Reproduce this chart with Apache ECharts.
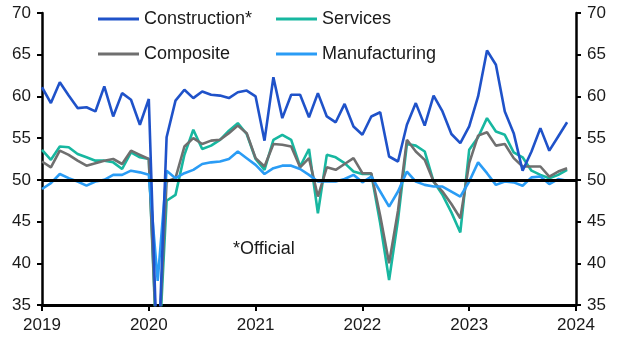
<!DOCTYPE html>
<html>
<head>
<meta charset="utf-8">
<script src="https://cdn.jsdelivr.net/npm/echarts@6/dist/echarts.min.js"></script>
<style>
  html, body { margin: 0; padding: 0; background: #fff; }
  #chart { width: 629px; height: 352px; }
</style>
</head>
<body>
<div id="chart"></div>
<script>
// monthly, Jan 2019 .. Dec 2023 (plus Jan 2024 slot for the last tick)
var months = [];
for (var y = 2019; y <= 2023; y++) {
  for (var m = 1; m <= 12; m++) months.push(y + '-' + (m < 10 ? '0' + m : m));
}
months.push('2024-01');

var construction = [
  61.1, 59.2, 61.7, 60.1, 58.6, 58.7, 58.2, 61.2, 57.6, 60.4, 59.6, 56.6,
  59.7, 26.6, 55.1, 59.5, 60.8, 59.8, 60.6, 60.2, 60.1, 59.8, 60.5, 60.7,
  60.0, 54.7, 62.3, 57.4, 60.2, 60.2, 57.5, 60.4, 57.6, 56.9, 59.1, 56.4,
  55.4, 57.6, 58.1, 52.8, 52.2, 56.6, 59.2, 56.5, 60.1, 58.2, 55.5, 54.4,
  56.4, 60.0, 65.5, 63.8, 58.2, 55.6, 51.1, 53.4, 56.2, 53.5, 55.2, 56.9
];
var services = [
  53.6, 52.4, 54.0, 53.9, 53.1, 52.7, 52.3, 52.3, 52.1, 51.3, 53.3, 52.7,
  52.5, 26.5, 47.5, 48.2, 53.0, 56.0, 53.7, 54.1, 54.8, 55.9, 56.8, 55.5,
  52.5, 51.2, 54.8, 55.4, 54.8, 51.6, 53.7, 46.0, 53.0, 52.7, 52.0, 51.0,
  50.7, 50.7, 44.8, 38.0, 45.2, 54.3, 54.1, 53.4, 49.8, 48.2, 46.1, 43.7,
  53.6, 55.1, 57.4, 55.8, 55.4, 53.3, 52.7, 51.1, 50.6, 50.2, 50.6, 51.2
];
var composite = [
  52.2, 51.5, 53.5, 53.0, 52.3, 51.7, 52.0, 52.3, 52.5, 51.9, 53.5, 53.0,
  52.5, 27.5, 49.8, 50.2, 54.0, 55.0, 54.3, 54.7, 54.8, 55.6, 56.5, 55.6,
  52.6, 51.6, 54.3, 54.2, 54.0, 51.5, 52.6, 48.0, 51.5, 51.2, 51.9, 52.6,
  50.8, 50.8, 45.7, 40.0, 46.3, 54.8, 53.4, 52.4, 49.8, 48.6, 47.1, 45.4,
  52.0, 55.3, 55.7, 54.1, 54.3, 52.6, 51.6, 51.6, 51.6, 50.4, 51.0, 51.4
];
var manufacturing = [
  48.9, 49.6, 50.7, 50.2, 49.8, 49.3, 49.8, 50.0, 50.6, 50.6, 51.1, 50.9,
  50.6, 37.9, 51.1, 50.2, 50.8, 51.2, 51.9, 52.1, 52.2, 52.5, 53.4, 52.6,
  51.8, 50.7, 51.4, 51.7, 51.7, 51.3, 50.6, 49.8, 49.8, 49.8, 50.1, 50.6,
  49.7, 50.4, 48.6, 46.8, 48.6, 51.0, 49.8, 49.4, 49.2, 49.2, 48.6, 48.0,
  49.8, 52.1, 50.8, 49.4, 49.8, 49.7, 49.3, 50.3, 50.4, 49.5, 50.1, 49.9
];

var font = 'Liberation Sans';
var txt = { color: '#1a1a1a', fontFamily: font, fontSize: 17 };

function line(name, data, color) {
  return {
    name: name, type: 'line', data: data, symbol: 'none',
    lineStyle: { color: color, width: 2.6 }, itemStyle: { color: color },
    clip: true
  };
}
// one legend per item so the two columns line up like the original
function legendAt(name, left, top) {
  return {
    data: [name], left: left, top: top, padding: 0,
    icon: 'rect', itemWidth: 41, itemHeight: 3,
    textStyle: { color: '#1a1a1a', fontFamily: font, fontSize: 18 }
  };
}
var yAxisBase = {
  type: 'value', min: 35, max: 70, interval: 5,
  splitLine: { show: false },
  axisLine: { show: true, lineStyle: { color: '#000', width: 2.5 } },
  axisTick: { show: true, length: 5, lineStyle: { color: '#000', width: 2 } },
  axisLabel: Object.assign({ margin: 11 }, txt)
};

var sv = line('Services', services, '#17b7a0');
sv.markLine = {
  silent: true, symbol: 'none', label: { show: false },
  lineStyle: { color: '#000', width: 3, type: 'solid' },
  data: [{ yAxis: 50 }]
};

var chart = echarts.init(document.getElementById('chart'));
chart.setOption({
  animation: false,
  grid: { left: 42, right: 53, top: 13, bottom: 47 },
  legend: [
    legendAt('Construction*', 98, 10),
    legendAt('Composite', 98, 45),
    legendAt('Services', 276, 10),
    legendAt('Manufacturing', 276, 45)
  ],
  xAxis: {
    type: 'category', data: months, boundaryGap: false,
    axisLine: { lineStyle: { color: '#000', width: 3 } },
    axisTick: {
      length: 6, lineStyle: { color: '#000', width: 2 },
      interval: function (i) { return i % 12 === 0; }
    },
    axisLabel: Object.assign({
      margin: 12, showMaxLabel: true,
      interval: function (i) { return i % 12 === 0; },
      formatter: function (v) { return v.slice(0, 4); }
    }, txt)
  },
  yAxis: [
    Object.assign({ position: 'left' }, yAxisBase),
    Object.assign({ position: 'right' }, yAxisBase)
  ],
  series: [
    sv,
    line('Composite', composite, '#6f6f6f'),
    line('Manufacturing', manufacturing, '#2a9cf5'),
    line('Construction*', construction, '#1f52c9')
  ],
  graphic: [{
    type: 'text', left: 233, top: 240,
    style: { text: '*Official', fill: '#1a1a1a', font: '18px "Liberation Sans"' }
  }]
});
</script>
</body>
</html>
